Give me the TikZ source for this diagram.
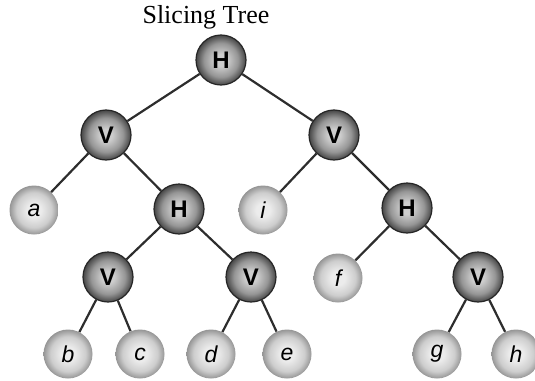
\documentclass[tikz,border=0pt]{standalone}
\usepackage{fontspec}
\setmainfont{Liberation Serif}
\newfontfamily\ballfont{Liberation Sans}
\usetikzlibrary{backgrounds}
\definecolor{edgegray}{RGB}{45,45,45}
\definecolor{darkcore}{RGB}{205,205,205}
\definecolor{darkmid}{RGB}{150,150,150}
\definecolor{darkrim}{RGB}{70,70,70}
\definecolor{lightcore}{RGB}{236,236,236}
\definecolor{lightmid}{RGB}{205,205,205}
\definecolor{lightrim}{RGB}{150,150,150}
\pgfdeclareradialshading{cutball}{\pgfpoint{0bp}{0bp}}{color(0bp)=(darkcore); color(6bp)=(darkcore); color(17bp)=(darkmid); color(25bp)=(darkrim); color(50bp)=(darkrim)}
\pgfdeclareradialshading{leafball}{\pgfpoint{0bp}{0bp}}{color(0bp)=(lightcore); color(7bp)=(lightcore); color(18bp)=(lightmid); color(25bp)=(lightrim); color(50bp)=(lightrim)}

\begin{document}
\begin{tikzpicture}[x=1pt, y=-1pt,
  cut/.style={circle, draw=black!85, line width=1.2pt, minimum size=50pt, inner sep=0pt,
              shading=cutball, font=\ballfont\bfseries\fontsize{24}{24}\selectfont},
  leaf/.style={circle, minimum size=49pt, inner sep=0pt,
               shading=leafball, font=\ballfont\itshape\fontsize{23}{23}\selectfont},
  branch/.style={draw=edgegray, line width=2.2pt}]

  \useasboundingbox (0,0) rectangle (535,380);

  %% title
  \node[font=\fontsize{26}{26}\selectfont] (title) at (206,17) {Slicing Tree};

  %% cut nodes
  \node[cut] (root) at (221,60)  {H};
  \node[cut] (vl)   at (106,135) {V};
  \node[cut] (vr)   at (334,135) {V};
  \node[cut] (hl)   at (179,209) {H};
  \node[cut] (hr)   at (407,208) {H};
  \node[cut] (vll)  at (108,277) {V};
  \node[cut] (vlr)  at (251,277) {V};
  \node[cut] (vrr)  at (478,277) {V};

  %% modules
  \node[leaf] (a) at (34,210)  {a};
  \node[leaf] (i) at (263,210) {i};
  \node[leaf] (f) at (338,278) {f};
  \node[leaf] (b) at (68,354)  {b};
  \node[leaf] (c) at (140,354) {c};
  \node[leaf] (d) at (211,354) {d};
  \node[leaf] (e) at (287,354) {e};
  \node[leaf] (g) at (437,354) {g};
  \node[leaf] (h) at (516,354) {h};

  %% branches
  \begin{scope}[on background layer]
    \draw[branch] (root) -- (vl);
    \draw[branch] (root) -- (vr);
    \draw[branch] (vl) -- (a);
    \draw[branch] (vl) -- (hl);
    \draw[branch] (vr) -- (i);
    \draw[branch] (vr) -- (hr);
    \draw[branch] (hl) -- (vll);
    \draw[branch] (hl) -- (vlr);
    \draw[branch] (hr) -- (f);
    \draw[branch] (hr) -- (vrr);
    \draw[branch] (vll) -- (b);
    \draw[branch] (vll) -- (c);
    \draw[branch] (vlr) -- (d);
    \draw[branch] (vlr) -- (e);
    \draw[branch] (vrr) -- (g);
    \draw[branch] (vrr) -- (h);
  \end{scope}
\end{tikzpicture}
\end{document}
